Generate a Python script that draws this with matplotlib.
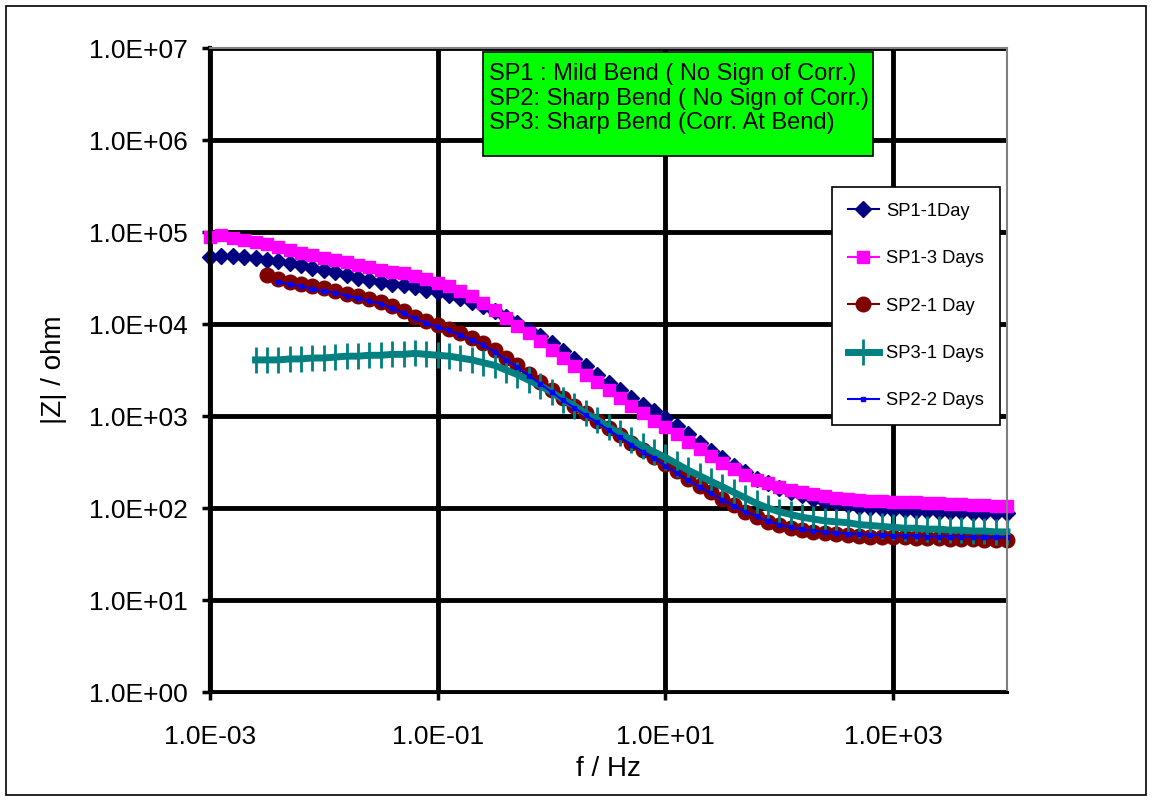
import numpy as np
import matplotlib
matplotlib.use('Agg')
import matplotlib.pyplot as plt
from matplotlib.patches import Rectangle
from matplotlib.ticker import FixedLocator, FuncFormatter, NullLocator

plt.rcParams['font.family'] = ['Liberation Sans', 'DejaVu Sans']

# frequency grid, 10 points per decade, 1 mHz .. 10 kHz
freq = 10 ** (np.arange(-30, 41) / 10)

sp1_1day = [53700, 55000, 55000, 53700, 52500, 50100, 47900, 45700, 43700, 40700,
            38900, 36300, 33900, 31600, 30200, 28800, 27500, 26300, 25100, 23400,
            22400, 20900, 19100, 17400, 15500, 13800, 12000, 10200, 8710, 7410,
            6170, 5130, 4170, 3470, 2820, 2290, 1910, 1580, 1320, 1120,
            955, 776, 631, 513, 417, 347, 288, 245, 209, 186,
            166, 151, 138, 126, 117, 112, 107, 102, 100, 97.7,
            95.5, 95.5, 93.3, 93.3, 91.2, 91.2, 91.2, 89.1, 89.1, 89.1, 89.1]

sp1_3days = [89100, 93300, 87100, 81300, 77600, 74100, 69200, 63100, 58900, 56200,
             52500, 50100, 46800, 43700, 41700, 38900, 37200, 35500, 33100, 30900,
             28200, 25700, 22900, 20000, 17000, 14100, 11700, 9550, 7940, 6460,
             5250, 4270, 3470, 2820, 2340, 1910, 1580, 1290, 1070, 891,
             759, 631, 525, 437, 363, 309, 263, 229, 204, 186,
             170, 158, 148, 141, 135, 129, 126, 123, 120, 120,
             117, 115, 115, 112, 112, 110, 110, 107, 107, 105, 105]

sp2_1day = [33900, 30900, 28800, 27500, 25700, 24500, 22900, 21400, 20000, 18600,
            17400, 15800, 13800, 12000, 10700, 9770, 8910, 7940, 7080, 6170,
            5250, 4270, 3550, 2880, 2340, 1910, 1550, 1290, 1070, 891,
            741, 617, 513, 427, 355, 302, 251, 209, 174, 148,
            126, 107, 91.2, 79.4, 70.8, 64.6, 60.3, 57.5, 55.0, 53.7,
            52.5, 51.3, 50.1, 49.0, 49.0, 47.9, 47.9, 46.8, 46.8, 46.8,
            45.7, 45.7, 45.7, 44.7, 44.7, 44.7]

sp3_1day = [4070, 4070, 4070, 4170, 4170, 4270, 4270, 4370, 4470, 4470,
            4570, 4570, 4680, 4680, 4790, 4680, 4570, 4470, 4270, 4070,
            3800, 3550, 3160, 2820, 2450, 2140, 1820, 1510, 1290, 1070,
            912, 759, 646, 550, 468, 407, 355, 302, 257, 224,
            195, 170, 148, 129, 112, 100, 91.2, 85.1, 79.4, 75.9,
            72.4, 70.8, 69.2, 66.1, 64.6, 63.1, 61.7, 60.3, 60.3, 58.9,
            58.9, 57.5, 57.5, 56.2, 56.2, 55.0, 55.0]

sp2_2days = [28800, 26900, 25700, 24000, 22900, 21900, 20400, 19100, 17800, 16600,
             14800, 13200, 11500, 10200, 9330, 8510, 7590, 6760, 5890, 5010,
             4070, 3390, 2750, 2240, 1820, 1480, 1230, 1020, 851, 708,
             589, 490, 407, 347, 288, 240, 200, 170, 145, 123,
             105, 91.2, 81.3, 72.4, 66.1, 61.7, 58.9, 56.2, 55.0, 53.7,
             52.5, 52.5, 51.3, 51.3, 50.1, 50.1, 50.1, 49.0, 49.0, 49.0,
             49.0, 47.9, 47.9, 47.9, 47.9]

note_lines = ['SP1 : Mild Bend ( No Sign of Corr.)',
              'SP2: Sharp Bend ( No Sign of Corr.)',
              'SP3: Sharp Bend (Corr. At Bend)']


def sci(v, pos):
    e = int(round(np.log10(v)))
    return '1.0E%s%02d' % ('+' if e >= 0 else '-', abs(e))


def main():
    fig = plt.figure(figsize=(11.52, 8.01), dpi=100)
    ax = fig.add_axes([210 / 1152, 1 - 692 / 801, 797 / 1152, 644 / 801])

    kw = dict(clip_on=False)
    ax.plot(freq[-len(sp1_1day):], sp1_1day, color='#000080', lw=1.5,
            marker='D', ms=8, label='SP1-1Day', **kw)
    ax.plot(freq[-len(sp1_3days):], sp1_3days, color='#FF00FF', lw=1.5,
            marker='s', ms=8.5, label='SP1-3 Days', **kw)
    ax.plot(freq[-len(sp2_1day):], sp2_1day, color='#800000', lw=1.5,
            marker='o', ms=10.5, label='SP2-1 Day', **kw)
    ax.plot(freq[-len(sp3_1day):], sp3_1day, color='#008080', lw=5,
            marker='|', ms=19, mew=2, label='SP3-1 Days', **kw)
    ax.plot(freq[-len(sp2_2days):], sp2_2days, color='#0000FF', lw=1.5,
            marker='s', ms=3.5, label='SP2-2 Days', **kw)

    ax.set_xscale('log')
    ax.set_yscale('log')
    ax.set_xlim(1e-3, 1e4)
    ax.set_ylim(1e0, 1e7)
    ax.xaxis.set_major_locator(FixedLocator([1e-3, 1e-1, 1e1, 1e3]))
    ax.yaxis.set_major_locator(FixedLocator([10.0 ** k for k in range(8)]))
    ax.xaxis.set_minor_locator(NullLocator())
    ax.yaxis.set_minor_locator(NullLocator())
    ax.xaxis.set_major_formatter(FuncFormatter(sci))
    ax.yaxis.set_major_formatter(FuncFormatter(sci))
    ax.tick_params(labelsize=19, length=6, width=2.5, direction='out',
                   color='black')
    ax.tick_params(axis='y', pad=10)
    ax.tick_params(axis='x', pad=18)
    ax.grid(True, color='black', lw=3.5)
    ax.set_axisbelow(True)

    ax.spines['left'].set_linewidth(3)
    ax.spines['bottom'].set_linewidth(2.2)
    ax.spines['top'].set_color('#808080')
    ax.spines['right'].set_color('#808080')
    ax.spines['top'].set_linewidth(1.5)
    ax.spines['right'].set_linewidth(1.5)

    ax.set_xlabel('f / Hz', fontsize=20, labelpad=5)
    ax.set_ylabel('|Z| / ohm', fontsize=20, labelpad=16)

    leg = ax.legend(loc='upper right', bbox_to_anchor=(0.991, 0.784),
                    borderaxespad=0, fontsize=13.2, fancybox=False,
                    edgecolor='black', framealpha=1, labelspacing=1.66,
                    handlelength=1.7, borderpad=0.85, handletextpad=0.4)
    leg.get_frame().set_linewidth(1.2)

    # green note box
    fig.add_artist(Rectangle((483 / 1152, 1 - 156 / 801), 390 / 1152, 104 / 801,
                             transform=fig.transFigure, facecolor='#00FF00',
                             edgecolor='black', lw=1.2, zorder=5))
    for i, line in enumerate(note_lines):
        fig.text(489 / 1152, 1 - (74 + 24.5 * i) / 801, line, fontsize=17,
                 va='center', ha='left', zorder=6)

    # outer chart border
    fig.add_artist(Rectangle((6 / 1152, 6 / 801), 1140 / 1152, 789 / 801,
                             transform=fig.transFigure, fill=False,
                             edgecolor='black', lw=1.2))

    fig.savefig('out.png', dpi=100)


if __name__ == "__main__":
    main()
